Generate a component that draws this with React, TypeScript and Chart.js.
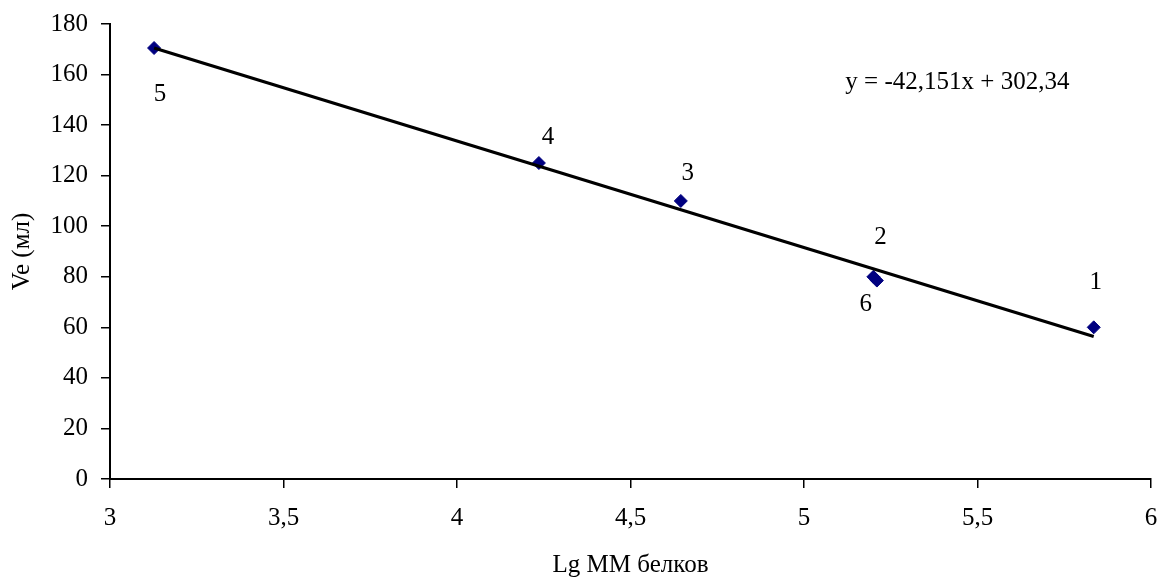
import React, { useEffect, useRef } from "react";
import { Chart, registerables } from "chart.js";

Chart.register(...registerables);

// Data
const lgMM: number[] = [5.835, 5.2, 4.645, 4.236, 3.127, 5.21];
const veMl: number[] = [60, 80, 110, 125, 170.5, 78.5];
const pointLabels: string[] = ["1", "2", "3", "4", "5", "6"];
const slope = -42.151;
const intercept = 302.34;
const equationText = "y = -42,151x + 302,34";
const xTickValues: number[] = [3, 3.5, 4, 4.5, 5, 5.5, 6];
const yTickValues: number[] = [0, 20, 40, 60, 80, 100, 120, 140, 160, 180];
const xTitle = "Lg MM белков";
const yTitle = "Ve (мл)";

const FONT = "'Liberation Serif', 'Times New Roman', serif";
const FS = 25;

// label pixel offsets relative to each point (style only)
const labelOffsets: [number, number][] = [
  [2, -45],
  [7, -39],
  [7, -28],
  [9, -26],
  [6, 46],
  [-11, 24],
];

const labelsPlugin = {
  id: "pointLabelsAndEq",
  afterDatasetsDraw(chart: any) {
    const ctx = chart.ctx;
    const meta = chart.getDatasetMeta(0);
    ctx.save();
    ctx.fillStyle = "#000";
    ctx.font = `${FS}px ${FONT}`;
    ctx.textAlign = "center";
    ctx.textBaseline = "middle";
    meta.data.forEach((el: any, i: number) => {
      const [dx, dy] = labelOffsets[i];
      ctx.fillText(pointLabels[i], el.x + dx, el.y + dy);
    });
    const xs = chart.scales.x;
    const ys = chart.scales.y;
    ctx.fillText(equationText, xs.getPixelForValue(5.442), ys.getPixelForValue(157));
    ctx.restore();
  },
};

export default function App() {
  const ref = useRef<HTMLCanvasElement>(null);
  useEffect(() => {
    document.body.style.margin = "0";
    const xMin = Math.min(...lgMM);
    const xMax = Math.max(...lgMM);
    const trend = [
      { x: xMin, y: slope * xMin + intercept },
      { x: xMax, y: slope * xMax + intercept },
    ];
    const chart = new Chart(ref.current!, {
      type: "scatter",
      data: {
        datasets: [
          {
            data: lgMM.map((x, i) => ({ x, y: veMl[i] })),
            pointStyle: "rectRot",
            pointRadius: 6.5,
            backgroundColor: "#000080",
            borderColor: "#000080",
            borderWidth: 1,
            order: 2,
          },
          {
            type: "line",
            data: trend,
            borderColor: "#000",
            borderWidth: 3.2,
            pointRadius: 0,
            fill: false,
            order: 1,
          } as any,
        ],
      },
      options: {
        animation: false,
        responsive: false,
        devicePixelRatio: 1,
        layout: { padding: { top: 24, right: 8, left: 0, bottom: 0 } },
        plugins: { legend: { display: false }, tooltip: { enabled: false } },
        scales: {
          x: {
            type: "linear",
            min: 3,
            max: 6,
            afterBuildTicks: (s: any) => {
              s.ticks = xTickValues.map((v) => ({ value: v }));
            },
            afterFit: (s: any) => {
              s.height = 98;
              s.paddingLeft = 0;
              s.paddingRight = 0;
            },
            ticks: {
              color: "#000",
              font: { family: FONT, size: FS },
              padding: 15,
              maxRotation: 0,
              callback: (v: any) => String(v).replace(".", ","),
            },
            grid: {
              display: true,
              drawOnChartArea: false,
              drawTicks: true,
              tickLength: 9,
              color: "#000",
              lineWidth: 1.5,
            },
            border: { display: true, color: "#000", width: 2 },
            title: {
              display: true,
              text: xTitle,
              color: "#000",
              font: { family: FONT, size: FS },
              padding: { top: 0, bottom: -3 },
            },
          },
          y: {
            type: "linear",
            min: 0,
            max: 180,
            afterBuildTicks: (s: any) => {
              s.ticks = yTickValues.map((v) => ({ value: v }));
            },
            afterFit: (s: any) => {
              s.width = 110;
              s.paddingTop = 0;
              s.paddingBottom = 0;
            },
            ticks: {
              color: "#000",
              font: { family: FONT, size: FS },
              padding: 13,
            },
            grid: {
              display: true,
              drawOnChartArea: false,
              drawTicks: true,
              tickLength: 9,
              color: "#000",
              lineWidth: 1.5,
            },
            border: { display: true, color: "#000", width: 2 },
            title: {
              display: true,
              text: yTitle,
              color: "#000",
              font: { family: FONT, size: FS },
              padding: { top: 7, bottom: 0 },
            },
          },
        },
      },
      plugins: [labelsPlugin],
    });
    return () => chart.destroy();
  }, []);
  return (
    <div style={{ width: 1159, height: 577 }}>
      <canvas ref={ref} width={1159} height={577} style={{ display: "block" }} />
    </div>
  );
}
